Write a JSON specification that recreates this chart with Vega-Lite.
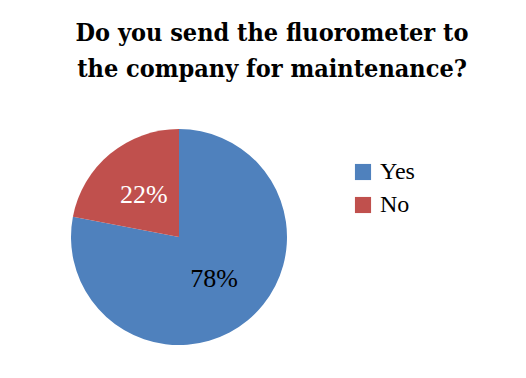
{
  "$schema": "https://vega.github.io/schema/vega-lite/v6.json",
  "width": 216,
  "height": 216,
  "autosize": {"type": "none"},
  "padding": {"left": 71, "top": 129, "right": 239, "bottom": 33},
  "background": "white",
  "title": {
    "text": ["Do you send the fluorometer to", "the company for maintenance?"],
    "anchor": "middle",
    "frame": "group",
    "dx": 93,
    "offset": 47,
    "lineHeight": 36
  },
  "data": {
    "values": [
      {"answer": "Yes", "share": 78, "label": "78%", "rank": 1},
      {"answer": "No", "share": 22, "label": "22%", "rank": 2}
    ]
  },
  "encoding": {
    "theta": {"field": "share", "type": "quantitative", "stack": true},
    "order": {"field": "rank", "type": "ordinal"}
  },
  "layer": [
    {
      "mark": {"type": "arc", "outerRadius": 108, "stroke": null},
      "encoding": {
        "color": {
          "field": "answer",
          "type": "nominal",
          "sort": ["Yes", "No"],
          "scale": {"domain": ["Yes", "No"], "range": ["#4F81BD", "#C0504D"]},
          "legend": {
            "title": null,
            "orient": "none",
            "legendX": 280,
            "legendY": 31,
            "symbolType": "square",
            "symbolSize": 260,
            "symbolStrokeWidth": 0,
            "labelFont": "Liberation Serif",
            "labelFontSize": 24,
            "labelColor": "#000000",
            "labelOffset": 5,
            "rowPadding": 9
          }
        }
      }
    },
    {
      "mark": {"type": "text", "radius": 55, "font": "Liberation Serif", "fontSize": 26},
      "encoding": {
        "text": {"field": "label"},
        "color": {"condition": {"test": "datum.answer === 'No'", "value": "#ffffff"}, "value": "#000000"}
      }
    }
  ],
  "config": {
    "view": {"stroke": null},
    "title": {
      "font": "DejaVu Serif Condensed",
      "fontSize": 25,
      "fontWeight": "bold",
      "color": "#000000"
    }
  }
}
